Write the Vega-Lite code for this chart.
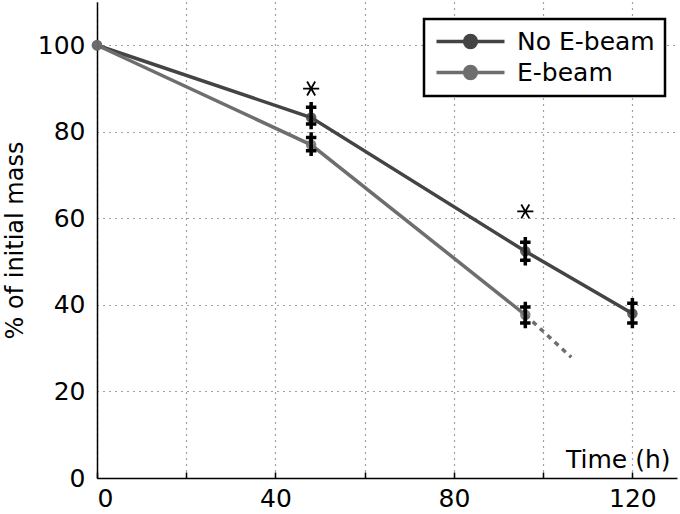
{
  "$schema": "https://vega.github.io/schema/vega-lite/v6.json",
  "width": 580,
  "height": 476,
  "autosize": {"type": "none"},
  "padding": {"left": 97, "top": 2, "right": 3, "bottom": 36},
  "background": "white",
  "config": {
    "font": "DejaVu Sans",
    "view": {"stroke": null},
    "axis": {
      "labelFont": "DejaVu Sans", "labelFontSize": 25, "labelColor": "black",
      "titleFont": "DejaVu Sans", "titleFontSize": 24, "titleFontWeight": "normal", "titleColor": "black",
      "domainColor": "black", "domainWidth": 1.5,
      "tickColor": "black", "tickWidth": 1.5,
      "gridColor": "#444", "gridDash": [1, 5], "gridWidth": 1.2
    }
  },
  "datasets": {
    "lines": [
      {"series": "No E-beam", "time": 0, "mass": 100},
      {"series": "No E-beam", "time": 48, "mass": 83.3},
      {"series": "No E-beam", "time": 96, "mass": 52.4},
      {"series": "No E-beam", "time": 120, "mass": 38},
      {"series": "E-beam", "time": 0, "mass": 100},
      {"series": "E-beam", "time": 48, "mass": 77},
      {"series": "E-beam", "time": 96, "mass": 37.7}
    ],
    "dashed": [
      {"series": "E-beam", "time": 96, "mass": 37.7},
      {"series": "E-beam", "time": 106.3, "mass": 27.9}
    ],
    "errors": [
      {"series": "No E-beam", "time": 48, "lo": 81.8, "hi": 85.7},
      {"series": "No E-beam", "time": 96, "lo": 50.3, "hi": 54.5},
      {"series": "No E-beam", "time": 120, "lo": 35.8, "hi": 40.4},
      {"series": "E-beam", "time": 48, "lo": 75.6, "hi": 78.7},
      {"series": "E-beam", "time": 96, "lo": 35.8, "hi": 39.5}
    ],
    "stars": [
      {"time": 48, "mass": 90},
      {"time": 96, "mass": 61.6}
    ]
  },
  "encoding": {
    "x": {
      "field": "time", "type": "quantitative",
      "scale": {"domain": [0, 130], "nice": false, "zero": false},
      "axis": {
        "values": [0, 20, 40, 60, 80, 100, 120],
        "labelExpr": "datum.value % 40 == 0 ? datum.label : ''",
        "tickSize": -6, "labelPadding": 14,
        "grid": true,
        "title": "Time (h)", "titleFontSize": 25, "titleAnchor": "end", "titleAlign": "right",
        "titleX": 573, "titleY": -6, "titleBaseline": "bottom"
      }
    },
    "y": {
      "field": "mass", "type": "quantitative",
      "scale": {"domain": [0, 110], "nice": false},
      "axis": {
        "values": [0, 20, 40, 60, 80, 100],
        "ticks": false, "labelPadding": 12,
        "grid": true,
        "title": "% of initial mass", "titlePadding": 10
      }
    }
  },
  "layer": [
    {
      "data": {"name": "dashed"},
      "mark": {"type": "line", "strokeWidth": 3.5, "strokeDash": [5, 5], "color": "#6e6e6e"},
      "encoding": {}
    },
    {
      "data": {"name": "lines"},
      "mark": {"type": "line", "strokeWidth": 3.5},
      "encoding": {
        "color": {
          "field": "series", "type": "nominal",
          "scale": {"domain": ["No E-beam", "E-beam"], "range": ["#444444", "#6e6e6e"]},
          "legend": {
            "title": null, "orient": "none", "legendX": 327, "legendY": 17,
            "symbolType": "M-4,0L4,0M0.7,0A0.7,0.7 0 1,1 -0.7,0A0.7,0.7 0 1,1 0.7,0Z",
            "symbolSize": 289, "symbolStrokeWidth": 3.5, "symbolOffset": 24,
            "labelFontSize": 25, "labelColor": "black", "labelFont": "DejaVu Sans", "labelOffset": 34,
            "strokeColor": "black", "padding": 10,
            "rowPadding": 4, "fillColor": "white",
            "encode": {"legend": {"update": {"strokeWidth": {"value": 2.5}}}}
          }
        },
        "order": {"field": "time"}
      }
    },
    {
      "data": {"name": "lines"},
      "mark": {"type": "point", "filled": true, "size": 110, "opacity": 0.85},
      "encoding": {
        "color": {"field": "series", "type": "nominal", "legend": null}
      }
    },
    {
      "data": {"name": "errors"},
      "mark": {"type": "rule", "strokeWidth": 3.5, "color": "black"},
      "encoding": {"y": {"field": "lo", "type": "quantitative"}, "y2": {"field": "hi"}}
    },
    {
      "data": {"name": "errors"},
      "mark": {"type": "point", "shape": "M-1,0L1,0M0,-1L0,1", "filled": false, "size": 110, "strokeWidth": 3.5, "color": "black", "opacity": 1},
      "encoding": {"y": {"field": "lo", "type": "quantitative"}}
    },
    {
      "data": {"name": "errors"},
      "mark": {"type": "point", "shape": "M-1,0L1,0M0,-1L0,1", "filled": false, "size": 110, "strokeWidth": 3.5, "color": "black", "opacity": 1},
      "encoding": {"y": {"field": "hi", "type": "quantitative"}}
    },
    {
      "data": {"name": "stars"},
      "mark": {"type": "point", "shape": "M-1,0L1,0M-0.5,-0.866L0.5,0.866M-0.5,0.866L0.5,-0.866", "filled": false, "size": 260, "strokeWidth": 1.8, "color": "black", "opacity": 1},
      "encoding": {}
    }
  ]
}
